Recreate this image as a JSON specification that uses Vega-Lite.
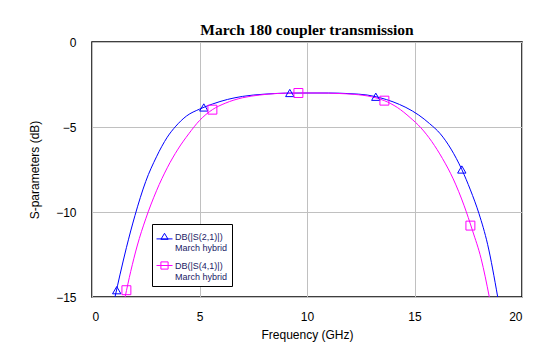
{
  "$schema": "https://vega.github.io/schema/vega-lite/v6.json",
  "autosize": "none",
  "width": 430,
  "height": 255,
  "padding": {"left": 92, "top": 42, "right": 32, "bottom": 65},
  "background": "white",
  "title": {"text": "March 180 coupler transmission", "font": "Liberation Serif", "fontSize": 15.5, "fontWeight": "bold", "color": "black", "frame": "group", "offset": -2},
  "datasets": {
    "curves": [
      {"series": "DB(|S(2,1)|)", "f": 1.07, "db": -15},
      {"series": "DB(|S(2,1)|)", "f": 1.3, "db": -13.7},
      {"series": "DB(|S(2,1)|)", "f": 1.6, "db": -12.1},
      {"series": "DB(|S(2,1)|)", "f": 2.0, "db": -10.2},
      {"series": "DB(|S(2,1)|)", "f": 2.5, "db": -8.2},
      {"series": "DB(|S(2,1)|)", "f": 3.0, "db": -6.75},
      {"series": "DB(|S(2,1)|)", "f": 3.5, "db": -5.6},
      {"series": "DB(|S(2,1)|)", "f": 3.9, "db": -4.95},
      {"series": "DB(|S(2,1)|)", "f": 4.4, "db": -4.35},
      {"series": "DB(|S(2,1)|)", "f": 5.0, "db": -3.95},
      {"series": "DB(|S(2,1)|)", "f": 5.6, "db": -3.65},
      {"series": "DB(|S(2,1)|)", "f": 6.3, "db": -3.38},
      {"series": "DB(|S(2,1)|)", "f": 7.0, "db": -3.2},
      {"series": "DB(|S(2,1)|)", "f": 8.0, "db": -3.07},
      {"series": "DB(|S(2,1)|)", "f": 9.0, "db": -3.01},
      {"series": "DB(|S(2,1)|)", "f": 10.0, "db": -3.0},
      {"series": "DB(|S(2,1)|)", "f": 11.0, "db": -3.0},
      {"series": "DB(|S(2,1)|)", "f": 12.0, "db": -3.04},
      {"series": "DB(|S(2,1)|)", "f": 12.8, "db": -3.12},
      {"series": "DB(|S(2,1)|)", "f": 13.4, "db": -3.28},
      {"series": "DB(|S(2,1)|)", "f": 14.0, "db": -3.52},
      {"series": "DB(|S(2,1)|)", "f": 14.6, "db": -3.85},
      {"series": "DB(|S(2,1)|)", "f": 15.2, "db": -4.3},
      {"series": "DB(|S(2,1)|)", "f": 15.7, "db": -4.8},
      {"series": "DB(|S(2,1)|)", "f": 16.2, "db": -5.4},
      {"series": "DB(|S(2,1)|)", "f": 16.7, "db": -6.3},
      {"series": "DB(|S(2,1)|)", "f": 17.2, "db": -7.5},
      {"series": "DB(|S(2,1)|)", "f": 17.6, "db": -8.7},
      {"series": "DB(|S(2,1)|)", "f": 18.0, "db": -10.1},
      {"series": "DB(|S(2,1)|)", "f": 18.4, "db": -11.9},
      {"series": "DB(|S(2,1)|)", "f": 18.87, "db": -15},
      {"series": "DB(|S(4,1)|)", "f": 1.54, "db": -15},
      {"series": "DB(|S(4,1)|)", "f": 1.8, "db": -13.5},
      {"series": "DB(|S(4,1)|)", "f": 2.1, "db": -12.0},
      {"series": "DB(|S(4,1)|)", "f": 2.5, "db": -10.4},
      {"series": "DB(|S(4,1)|)", "f": 3.0, "db": -8.75},
      {"series": "DB(|S(4,1)|)", "f": 3.5, "db": -7.4},
      {"series": "DB(|S(4,1)|)", "f": 4.0, "db": -6.3},
      {"series": "DB(|S(4,1)|)", "f": 4.5, "db": -5.4},
      {"series": "DB(|S(4,1)|)", "f": 5.0, "db": -4.62},
      {"series": "DB(|S(4,1)|)", "f": 5.6, "db": -3.98},
      {"series": "DB(|S(4,1)|)", "f": 6.2, "db": -3.6},
      {"series": "DB(|S(4,1)|)", "f": 7.0, "db": -3.28},
      {"series": "DB(|S(4,1)|)", "f": 7.8, "db": -3.12},
      {"series": "DB(|S(4,1)|)", "f": 8.6, "db": -3.03},
      {"series": "DB(|S(4,1)|)", "f": 9.5, "db": -3.0},
      {"series": "DB(|S(4,1)|)", "f": 10.5, "db": -3.0},
      {"series": "DB(|S(4,1)|)", "f": 11.5, "db": -3.03},
      {"series": "DB(|S(4,1)|)", "f": 12.2, "db": -3.08},
      {"series": "DB(|S(4,1)|)", "f": 13.0, "db": -3.22},
      {"series": "DB(|S(4,1)|)", "f": 13.6, "db": -3.45},
      {"series": "DB(|S(4,1)|)", "f": 14.2, "db": -3.85},
      {"series": "DB(|S(4,1)|)", "f": 14.8, "db": -4.45},
      {"series": "DB(|S(4,1)|)", "f": 15.3, "db": -5.05},
      {"series": "DB(|S(4,1)|)", "f": 15.8, "db": -5.85},
      {"series": "DB(|S(4,1)|)", "f": 16.3, "db": -6.85},
      {"series": "DB(|S(4,1)|)", "f": 16.8, "db": -8.05},
      {"series": "DB(|S(4,1)|)", "f": 17.3, "db": -9.6},
      {"series": "DB(|S(4,1)|)", "f": 17.7, "db": -11.1},
      {"series": "DB(|S(4,1)|)", "f": 18.1, "db": -12.75},
      {"series": "DB(|S(4,1)|)", "f": 18.48, "db": -15}
    ],
    "markers": [
      {"series": "DB(|S(2,1)|)", "f": 1.15, "db": -14.6},
      {"series": "DB(|S(2,1)|)", "f": 5.2, "db": -3.85},
      {"series": "DB(|S(2,1)|)", "f": 9.2, "db": -3.0},
      {"series": "DB(|S(2,1)|)", "f": 13.2, "db": -3.22},
      {"series": "DB(|S(2,1)|)", "f": 17.2, "db": -7.5},
      {"series": "DB(|S(4,1)|)", "f": 1.6, "db": -14.6},
      {"series": "DB(|S(4,1)|)", "f": 5.6, "db": -3.98},
      {"series": "DB(|S(4,1)|)", "f": 9.6, "db": -3.0},
      {"series": "DB(|S(4,1)|)", "f": 13.6, "db": -3.45},
      {"series": "DB(|S(4,1)|)", "f": 17.6, "db": -10.8}
    ]
  },
  "encoding": {
    "x": {"field": "f", "type": "quantitative",
      "scale": {"domain": [0, 20], "nice": false, "zero": false},
      "axis": {"title": "Frequency (GHz)", "values": [0, 5, 10, 15, 20], "labelPadding": 14, "titlePadding": 7, "domain": false}},
    "y": {"field": "db", "type": "quantitative",
      "scale": {"domain": [-15, 0], "nice": false, "zero": false},
      "axis": {"title": "S-parameters (dB)", "values": [-15, -10, -5, 0], "labelPadding": 16, "titlePadding": 14, "domain": false}}
  },
  "layer": [
    {"data": {"name": "curves"}, "transform": [{"filter": "datum.series == 'DB(|S(2,1)|)'"}],
      "mark": {"type": "line", "color": "#0000ff", "strokeWidth": 1, "interpolate": "monotone", "clip": true}},
    {"data": {"name": "curves"}, "transform": [{"filter": "datum.series == 'DB(|S(4,1)|)'"}],
      "mark": {"type": "line", "color": "#ff00ff", "strokeWidth": 1, "interpolate": "monotone", "clip": true}},
    {"data": {"name": "markers"}, "transform": [{"filter": "datum.series == 'DB(|S(2,1)|)'"}],
      "mark": {"type": "point", "shape": "triangle-up", "size": 70, "filled": false, "color": "#0000ff", "strokeWidth": 1, "opacity": 1}},
    {"data": {"name": "markers"}, "transform": [{"filter": "datum.series == 'DB(|S(4,1)|)'"}],
      "mark": {"type": "point", "shape": "square", "size": 80, "filled": false, "color": "#ff00ff", "strokeWidth": 1, "opacity": 1}},
    {"data": {"name": "markers"}, "transform": [{"filter": "false"}],
      "mark": {"type": "point", "filled": false, "strokeWidth": 1, "opacity": 1},
      "encoding": {
        "color": {"field": "series", "type": "nominal",
          "scale": {"domain": ["DB(|S(2,1)|)", "DB(|S(4,1)|)"], "range": ["#0000ff", "#ff00ff"]},
          "legend": {"title": null, "orient": "none", "legendX": 60, "legendY": 182,
            "labelExpr": "[datum.label, 'March hybrid']",
            "labelFont": "Liberation Sans", "labelFontSize": 9, "labelColor": "#1a1a66",
            "symbolSize": 256, "symbolStrokeWidth": 1, "symbolFillColor": "transparent",
            "strokeColor": "black", "fillColor": "white", "padding": 4, "rowPadding": 4, "labelOffset": 2}},
        "shape": {"field": "series", "type": "nominal",
          "scale": {"domain": ["DB(|S(2,1)|)", "DB(|S(4,1)|)"], "range": ["M-1,0.3H1M-0.45,0.35L0,-0.4L0.45,0.35Z", "M-1,0H1M-0.45,-0.45H0.45V0.45H-0.45Z"]}}
      }}
  ],
  "config": {
    "font": "Liberation Sans",
    "view": {"stroke": "black", "strokeWidth": 1.5},
    "axis": {"labelFont": "Liberation Sans", "labelFontSize": 12, "labelColor": "black", "titleFont": "Liberation Sans", "titleFontSize": 12, "titleFontWeight": "normal", "titleColor": "black", "ticks": false, "tickSize": 0, "gridColor": "#c0c0c0", "gridOpacity": 1, "gridWidth": 1}
  }
}
